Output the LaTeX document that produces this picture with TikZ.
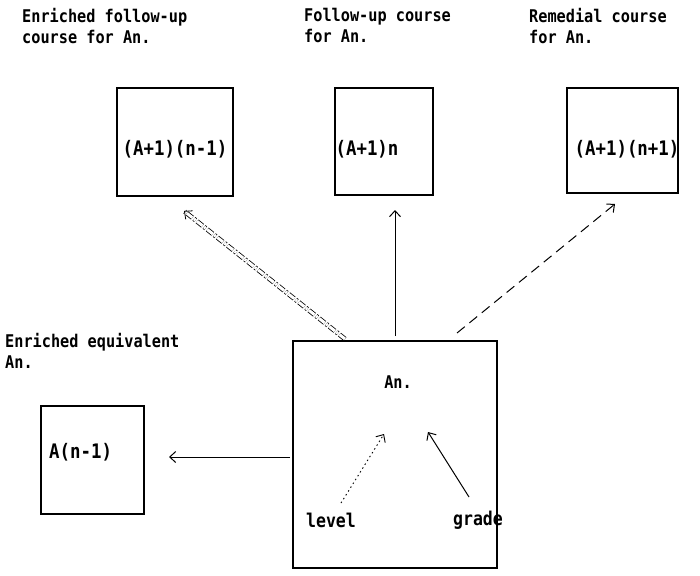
\documentclass[tikz,border=0pt]{standalone}
\usepackage{fontspec}
\setmonofont[FakeStretch=0.87]{DejaVu Sans Mono}
\usetikzlibrary{arrows.meta}
\begin{document}
\begin{tikzpicture}[x=1pt,y=-1pt,
  box/.style={draw,line width=1.1pt,inner sep=0pt},
  txt/.style={font=\ttfamily\bfseries\fontsize{17.5}{21}\selectfont,inner sep=0pt},
  big/.style={font=\ttfamily\bfseries\fontsize{20}{22}\selectfont,inner sep=0pt},
  mid/.style={font=\ttfamily\bfseries\fontsize{19}{22}\selectfont,inner sep=0pt},
  lbl/.style={txt,align=left,anchor=north west},
  arr/.style={line width=1pt,-{Straight Barb[length=6pt,width=11pt]}}]
\useasboundingbox (0,0) rectangle (700,575);
% boxes
\node[box,minimum width=116pt,minimum height=108pt] (b1) at (175,142) {};
\node[box,minimum width=98pt,minimum height=107pt] (b2) at (384,141.5) {};
\node[box,minimum width=111pt,minimum height=105pt] (b3) at (622.5,140.5) {};
\node[box,minimum width=103pt,minimum height=108pt] (b4) at (92.5,460) {};
\node[box,minimum width=204pt,minimum height=227pt] (main) at (395,454.5) {};
% box texts
\node[big] (t1) at (175,149) {(A+1)(n-1)};
\node[big] (t2) at (367,149) {(A+1)n};
\node[big] (t3) at (627,149) {(A+1)(n+1)};
\node[big,anchor=west] (t4) at (49,452) {A(n-1)};
\node[txt] (tan) at (398,382) {An.};
\node[mid] (tlev) at (331,520) {level};
\node[mid] (tgr) at (478,520) {grade};
% labels
\node[lbl] (l1) at (22,8) {Enriched follow-up\\course for An.};
\node[lbl] (l2) at (304,8) {Follow-up course\\for An.};
\node[lbl] (l3) at (529,8) {Remedial course\\for An.};
\node[lbl] (l4) at (5,333) {Enriched equivalent\\An.};
% connector endpoints
\coordinate (s1) at (345,339);
\coordinate (e1) at (184,211);
\coordinate (s2) at (395,336);
\coordinate (e2) at (395,210);
\coordinate (s3) at (457,333);
\coordinate (e3) at (615,204);
\coordinate (s4) at (290,457);
\coordinate (e4) at (169,457);
\coordinate (s5) at (341,503);
\coordinate (e5) at (384,434);
\coordinate (s6) at (469,497);
\coordinate (e6) at (428,432);
% connectors
\draw[arr,double,double distance=3pt,line width=0.8pt,dash pattern=on 7pt off 2pt on 2pt off 2pt] (s1) -- (e1);
\draw[arr] (s2) -- (e2);
\draw[arr,dash pattern=on 10pt off 6pt] (s3) -- (e3);
\draw[arr] (s4) -- (e4);
\draw[arr,line width=0.9pt,dash pattern=on 1.5pt off 3pt] (s5) -- (e5);
\draw[arr] (s6) -- (e6);
\end{tikzpicture}
\end{document}
